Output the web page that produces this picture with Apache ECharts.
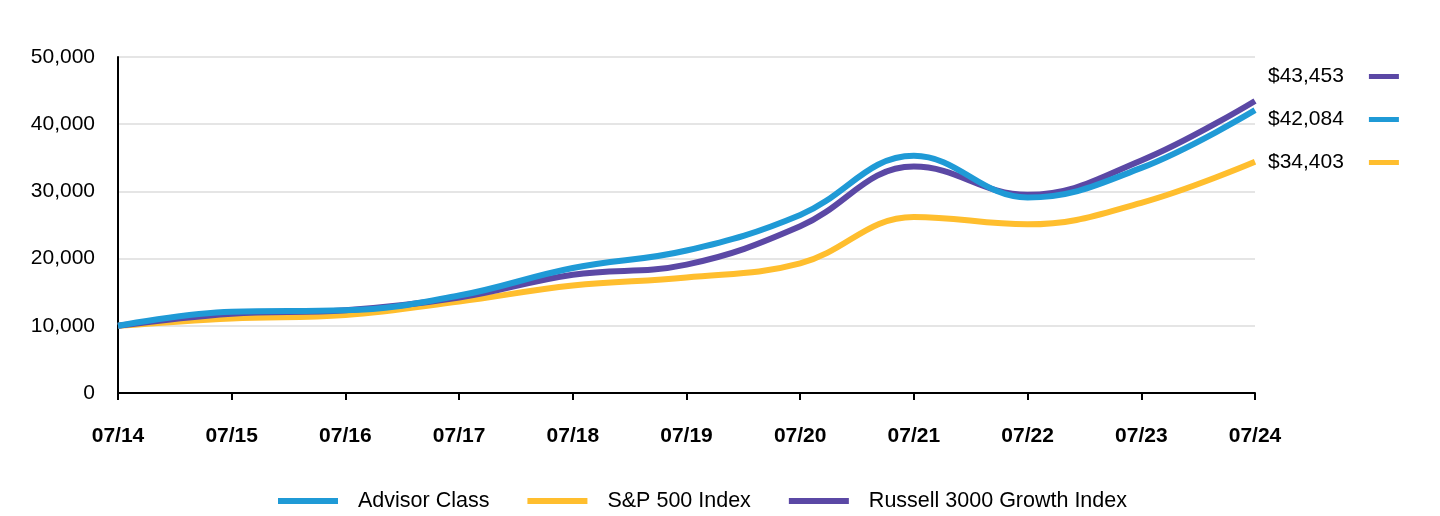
<!DOCTYPE html>
<html>
<head>
<meta charset="utf-8">
<script src="https://cdn.jsdelivr.net/npm/echarts@6/dist/echarts.min.js"></script>
<style>html,body{margin:0;padding:0;background:#fff}#c{width:1440px;height:516px}</style>
</head>
<body>
<div id="c"></div>
<script>
const categories = ['07/14','07/15','07/16','07/17','07/18','07/19','07/20','07/21','07/22','07/23','07/24'];
const advisorClass = [10000, 12100, 12300, 14500, 18600, 21200, 26500, 35300, 29100, 33500, 42084];
const sp500 = [10000, 11100, 11600, 13600, 16000, 17200, 19300, 26200, 25100, 28300, 34403];
const russell3000Growth = [10000, 11800, 12300, 14200, 17600, 19100, 24800, 33700, 29500, 34600, 43453];
const yTicks = [0, 10000, 20000, 30000, 40000, 50000];

const names = ['Advisor Class', 'S&P 500 Index', 'Russell 3000 Growth Index'];
const colors = ['#1f9ad6', '#ffbe2e', '#5b48a5'];
const seriesData = [advisorClass, sp500, russell3000Growth];
const lastVal = {};
names.forEach((n, i) => { lastVal[n] = seriesData[i][seriesData[i].length - 1]; });
const fmt = v => v.toLocaleString('en-US');

const font = 'Liberation Sans, Arial, sans-serif';
const chart = echarts.init(document.getElementById('c'));
const drawOrder = [1, 2, 0];
chart.setOption({
  animation: false,
  color: colors,
  grid: { left: 118, right: 185, top: 57, bottom: 123, containLabel: false },
  legend: [
    {
      data: names.map((n, i) => ({ name: n, icon: 'rect', itemStyle: { color: colors[i] } })),
      left: 278, top: 490, padding: 0,
      itemWidth: 60, itemHeight: 6, itemGap: 38,
      textStyle: { fontFamily: font, fontSize: 21.5, color: '#000', padding: [0, 0, 0, 15] }
    },
    {
      data: [2, 0, 1].map(i => ({ name: names[i], icon: 'rect', itemStyle: { color: colors[i] } })),
      orient: 'vertical', align: 'right',
      left: 1268, top: 66, padding: 0,
      itemWidth: 30, itemHeight: 5, itemGap: 22,
      formatter: n => '$' + fmt(lastVal[n]),
      textStyle: { fontFamily: font, fontSize: 21, color: '#000', padding: [0, 20, 0, 0] }
    }
  ],
  xAxis: {
    type: 'category', data: categories, boundaryGap: false,
    axisLine: { lineStyle: { color: '#000', width: 2 } },
    axisTick: { show: true, length: 7, lineStyle: { color: '#000', width: 2 } },
    axisLabel: { fontFamily: font, fontSize: 21, fontWeight: 'bold', color: '#000', margin: 33, interval: 0 },
    splitLine: { show: false }
  },
  yAxis: {
    type: 'value', min: 0, max: 50000, interval: 10000,
    axisLine: { show: true, lineStyle: { color: '#000', width: 2 } },
    axisTick: { show: false },
    axisLabel: { fontFamily: font, fontSize: 21, color: '#000', margin: 23,
      formatter: v => yTicks.includes(v) ? fmt(v) : '' },
    splitLine: { lineStyle: { color: '#dcdcdc', width: 1.5 } }
  },
  series: drawOrder.map(i => ({
    name: names[i], type: 'line', data: seriesData[i],
    smooth: 0.4, symbol: 'none',
    lineStyle: { width: 6, color: colors[i] },
    itemStyle: { color: colors[i] },
    z: 2 + drawOrder.indexOf(i)
  }))
});
</script>
</body>
</html>
